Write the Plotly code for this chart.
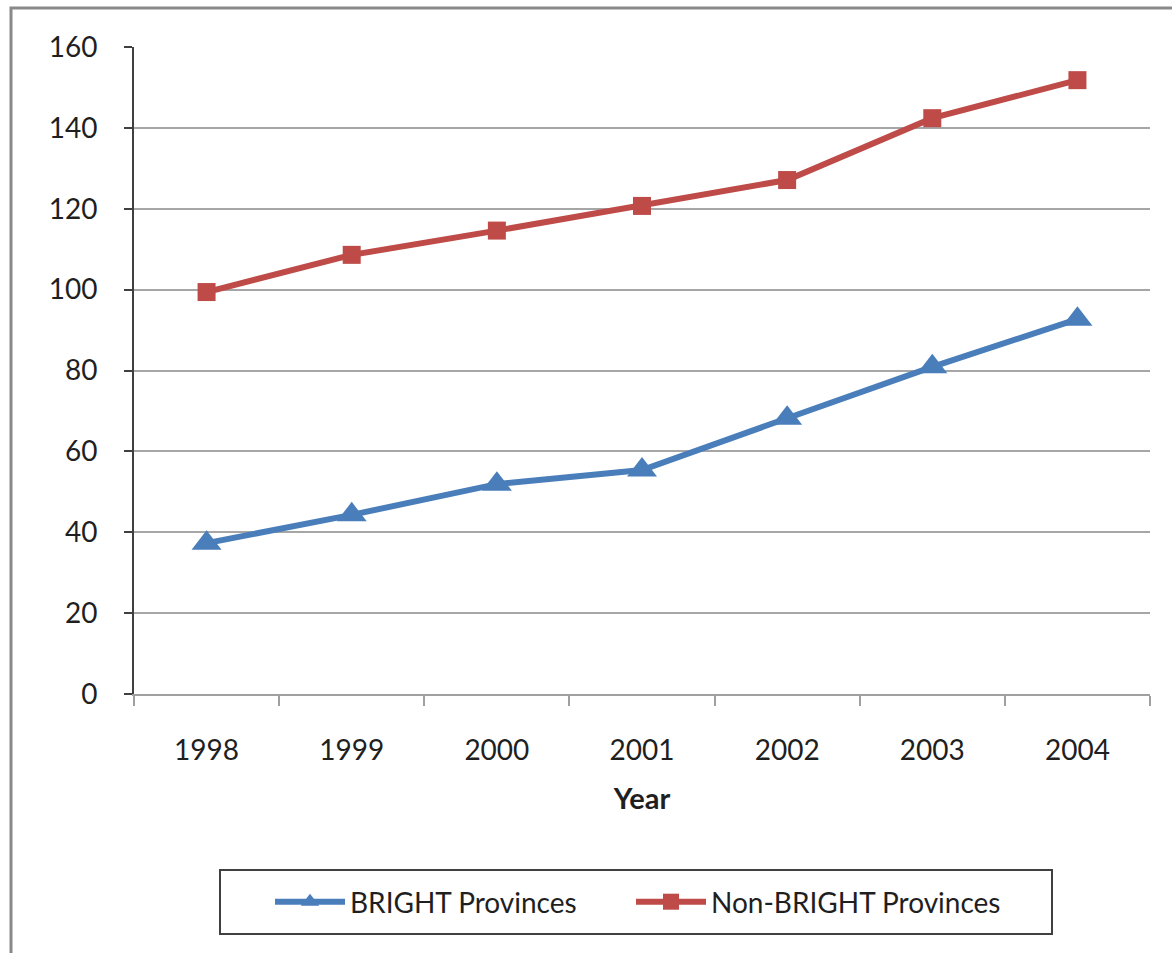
import plotly.graph_objects as go

years = ["1998", "1999", "2000", "2001", "2002", "2003", "2004"]
bright = [37.3, 44.3, 51.9, 55.4, 68.2, 80.9, 92.7]
non_bright = [99.4, 108.6, 114.6, 120.7, 127.1, 142.4, 151.8]

FONT = "Lato"
TEXT = "#1f1f1f"

# plot area in pixels (used to place the frame and legend box)
L, R, T, B = 134, 1150, 47, 694
PW, PH = R - L, B - T


def px_x(x):
    return (x - L) / PW


def px_y(y):
    return (B - y) / PH


fig = go.Figure()
fig.add_trace(go.Scatter(
    x=years, y=bright, name="BRIGHT Provinces", mode="lines+markers",
    line=dict(color="#4a7ebb", width=6),
    marker=dict(symbol="triangle-up", size=26, color="#4a7ebb"),
    legend="legend",
))
fig.add_trace(go.Scatter(
    x=years, y=non_bright, name="Non-BRIGHT Provinces", mode="lines+markers",
    line=dict(color="#be4b48", width=6),
    marker=dict(symbol="square", size=18, color="#be4b48"),
    legend="legend2",
))

legend_common = dict(
    orientation="h", xanchor="left", y=px_y(877), yanchor="top",
    borderwidth=0, bgcolor="rgba(0,0,0,0)",
    font=dict(family=FONT, size=28, color=TEXT),
    itemwidth=70,
)

fig.update_layout(
    width=1172, height=953,
    margin=dict(l=L, r=1172 - R, t=T, b=953 - B),
    paper_bgcolor="white", plot_bgcolor="white",
    font=dict(family=FONT, size=28, color=TEXT),
    showlegend=True,
    legend=dict(x=px_x(270), **legend_common),
    legend2=dict(x=px_x(631), **legend_common),
    xaxis=dict(
        type="category", range=[-0.5, 6.5],
        tickson="boundaries", ticks="outside", ticklen=10, tickwidth=2,
        tickcolor="#a0a0a0", showline=True, linecolor="#a0a0a0", linewidth=2,
        showgrid=False, zeroline=False, ticklabelstandoff=30,
        tickfont=dict(family=FONT, size=28, color=TEXT),
        title=dict(text="<b>Year</b>", standoff=24,
                   font=dict(family=FONT, size=29, color=TEXT)),
    ),
    yaxis=dict(
        range=[0, 160], dtick=20, tick0=0,
        ticks="outside", ticklen=8, tickwidth=2, tickcolor="#404040",
        showline=True, linecolor="#404040", linewidth=2,
        showgrid=True, gridcolor="#a6a6a6", gridwidth=2,
        zeroline=False, ticklabelstandoff=21,
        tickfont=dict(family=FONT, size=28, color=TEXT),
    ),
)

# Chart frame around the whole figure (extends past the right and bottom edges)
fig.add_shape(type="rect", xref="paper", yref="paper",
              x0=px_x(11), x1=1.2, y0=-0.6, y1=px_y(8),
              line=dict(color="#898989", width=3), fillcolor="rgba(0,0,0,0)",
              layer="below")

# Legend frame
fig.add_shape(type="rect", xref="paper", yref="paper",
              x0=px_x(220), x1=px_x(1052), y0=px_y(934), y1=px_y(870),
              line=dict(color="#404040", width=2), fillcolor="rgba(0,0,0,0)",
              layer="below")

fig.write_html("out.html")
